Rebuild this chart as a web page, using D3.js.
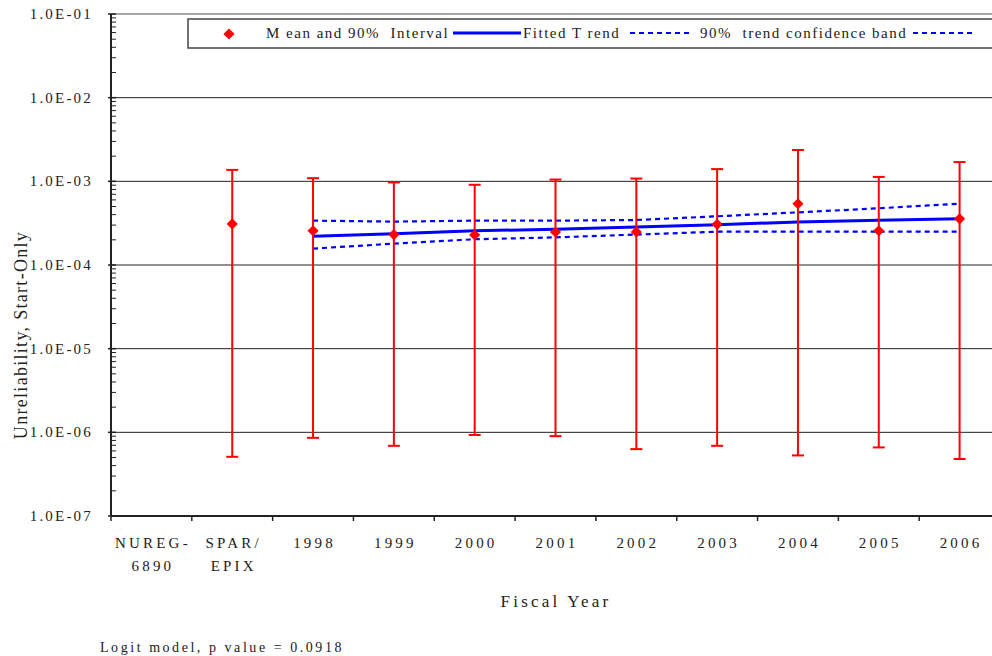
<!DOCTYPE html>
<html>
<head>
<meta charset="utf-8">
<script src="https://cdn.jsdelivr.net/npm/d3@7/dist/d3.min.js"></script>
<style>
  body { margin:0; background:#fff; }
</style>
</head>
<body>
<svg id="chart" width="992" height="656"></svg>
<script>
//categories on the x axis ("\n" = line break)
const categories = ["NUREG-\n6890","SPAR/\nEPIX","1998","1999","2000","2001","2002","2003","2004","2005","2006"]
//mean and 90% interval
const meanCats = ["SPAR/\nEPIX","1998","1999","2000","2001","2002","2003","2004","2005","2006"]
const means = [3.1e-4, 2.57e-4, 2.31e-4, 2.28e-4, 2.48e-4, 2.48e-4, 3.06e-4, 5.4e-4, 2.56e-4, 3.56e-4]
const upper = [1.37e-3, 1.09e-3, 9.7e-4, 9.1e-4, 1.05e-3, 1.08e-3, 1.40e-3, 2.37e-3, 1.13e-3, 1.70e-3]
const lower = [5.1e-7, 8.6e-7, 6.9e-7, 9.3e-7, 9.0e-7, 6.3e-7, 6.9e-7, 5.3e-7, 6.6e-7, 4.8e-7]
//fitted trend and band
const trendCats = ["1998","1999","2000","2001","2002","2003","2004","2005","2006"]
const trend = [2.2e-4, 2.37e-4, 2.57e-4, 2.67e-4, 2.85e-4, 3.03e-4, 3.27e-4, 3.42e-4, 3.56e-4]
const bandUpper = [3.39e-4, 3.3e-4, 3.39e-4, 3.39e-4, 3.45e-4, 3.82e-4, 4.26e-4, 4.76e-4, 5.4e-4]
const bandLower = [1.57e-4, 1.8e-4, 2.03e-4, 2.14e-4, 2.31e-4, 2.5e-4, 2.5e-4, 2.5e-4, 2.5e-4]
//y ticks
const yTicks = [1e-1, 1e-2, 1e-3, 1e-4, 1e-5, 1e-6, 1e-7]
const yTickLabels = ["1.0E-01","1.0E-02","1.0E-03","1.0E-04","1.0E-05","1.0E-06","1.0E-07"]

const FONT = "'Liberation Serif', 'Times New Roman', Tinos, 'DejaVu Serif', serif"
const svg = d3.select("#chart").attr("font-family", FONT).attr("fill", "#222")
const L = 111, R = 1000, T = 14, B = 516

const x = d3.scaleBand().domain(categories).range([L, R]).padding(0)
const y = d3.scaleLog().domain([1e-7, 1e-1]).range([B, T])
const cx = c => x(c) + x.bandwidth()/2

//top border
svg.append("line").attr("x1", L).attr("x2", R).attr("y1", T).attr("y2", T)
  .attr("stroke", "#888").attr("stroke-width", 1.5)

//gridlines at decades
svg.append("g").selectAll("line").data(yTicks.slice(1, -1)).enter().append("line")
  .attr("x1", L).attr("x2", R).attr("y1", d => y(d)).attr("y2", d => y(d))
  .attr("stroke", "#222").attr("stroke-width", 1)

//y axis with minor ticks inside
const minors = []
for (let e = -7; e < -1; e++) for (let m = 2; m <= 9; m++) minors.push(m * Math.pow(10, e))
const yAxis = svg.append("g").attr("transform", `translate(${L},0)`)
yAxis.append("line").attr("x1", 0).attr("x2", 0).attr("y1", T).attr("y2", B)
  .attr("stroke", "#222").attr("stroke-width", 2)
yAxis.selectAll("line.minor").data(minors).enter().append("line").attr("class", "minor")
  .attr("x1", 0).attr("x2", 5).attr("y1", d => y(d)).attr("y2", d => y(d))
  .attr("stroke", "#222").attr("stroke-width", 1)
yAxis.selectAll("line.major").data(yTicks).enter().append("line").attr("class", "major")
  .attr("x1", -3).attr("x2", 5).attr("y1", d => y(d)).attr("y2", d => y(d))
  .attr("stroke", "#222").attr("stroke-width", 1.5)
yAxis.selectAll("text").data(yTicks).enter().append("text")
  .attr("x", -18).attr("y", d => y(d) + 5)
  .attr("text-anchor", "end").attr("font-size", 15).attr("letter-spacing", 2.2)
  .text((d, i) => yTickLabels[i])

//x axis
const xAxis = svg.append("g").attr("transform", `translate(0,${B})`)
xAxis.append("line").attr("x1", L).attr("x2", R).attr("stroke", "#222").attr("stroke-width", 2)
xAxis.selectAll("line.tick").data(categories).enter().append("line").attr("class", "tick")
  .attr("x1", d => x(d)).attr("x2", d => x(d)).attr("y1", 0).attr("y2", 5)
  .attr("stroke", "#222").attr("stroke-width", 1.5)
const xl = xAxis.selectAll("text").data(categories).enter().append("text")
  .attr("x", d => cx(d) + 1.5).attr("y", 32)
  .attr("text-anchor", "middle").attr("font-size", 15).attr("letter-spacing", 3.2)
xl.selectAll("tspan").data(d => d.split("\n")).enter().append("tspan")
  .attr("x", function() { return this.parentNode.getAttribute("x") })
  .attr("dy", (d, i) => i == 0 ? 0 : 23)
  .text(d => d)

//band
const line = d3.line().x((d, i) => cx(trendCats[i])).y(d => y(d))
;[bandUpper, bandLower].forEach(b => {
  svg.append("path").attr("d", line(b)).attr("fill", "none")
    .attr("stroke", "#0000ff").attr("stroke-width", 2.2).attr("stroke-dasharray", "5,4")
})
//trend
svg.append("path").attr("d", line(trend)).attr("fill", "none")
  .attr("stroke", "#0000ff").attr("stroke-width", 3)

//error bars
const eb = svg.append("g").attr("stroke", "#ff0000").attr("stroke-width", 2)
eb.selectAll("line.v").data(meanCats).enter().append("line").attr("class", "v")
  .attr("x1", d => cx(d)).attr("x2", d => cx(d))
  .attr("y1", (d, i) => y(upper[i])).attr("y2", (d, i) => y(lower[i]))
;[upper, lower].forEach(arr => {
  eb.append("g").selectAll("line").data(meanCats).enter().append("line")
    .attr("x1", d => cx(d) - 6).attr("x2", d => cx(d) + 6)
    .attr("y1", (d, i) => y(arr[i])).attr("y2", (d, i) => y(arr[i]))
})
//diamonds (rotated squares)
const diamond = d3.symbol().type(d3.symbolSquare).size(62)
svg.append("g").selectAll("path").data(meanCats).enter().append("path")
  .attr("d", diamond)
  .attr("transform", (d, i) => `translate(${cx(d)},${y(means[i])}) rotate(45)`)
  .attr("fill", "#ff0000")

//legend
const lg = svg.append("g")
lg.append("rect").attr("x", 188).attr("y", 19).attr("width", 830).attr("height", 29)
  .attr("fill", "#fff").attr("stroke", "#444").attr("stroke-width", 1.5)
lg.append("path").attr("d", diamond).attr("transform", "translate(229,34) rotate(45)").attr("fill", "#ff0000")
const lgText = [["M ean and 90%  Interval", 266], ["Fitted T rend", 523], ["90%  trend confidence band", 700]]
lg.selectAll("text").data(lgText).enter().append("text")
  .attr("x", d => d[1]).attr("y", 38).attr("font-size", 15).attr("letter-spacing", 1.5)
  .attr("xml:space", "preserve").style("white-space", "pre")
  .text(d => d[0])
lg.append("line").attr("x1", 453).attr("x2", 521).attr("y1", 33).attr("y2", 33)
  .attr("stroke", "#0000ff").attr("stroke-width", 3)
;[[630, 692], [913, 976]].forEach(s => {
  lg.append("line").attr("x1", s[0]).attr("x2", s[1]).attr("y1", 33).attr("y2", 33)
    .attr("stroke", "#0000ff").attr("stroke-width", 2).attr("stroke-dasharray", "5,4")
})

//axis titles
svg.append("text").attr("transform", "translate(27,335) rotate(-90)")
  .attr("text-anchor", "middle").attr("font-size", 18).attr("letter-spacing", 1.3)
  .text("Unreliability, Start-Only")
svg.append("text").attr("x", 556).attr("y", 607)
  .attr("text-anchor", "middle").attr("font-size", 17).attr("letter-spacing", 3.2)
  .text("Fiscal Year")
svg.append("text").attr("x", 100).attr("y", 652)
  .attr("font-size", 14).attr("letter-spacing", 2.55)
  .text("Logit model, p value = 0.0918")
</script>
</body>
</html>
